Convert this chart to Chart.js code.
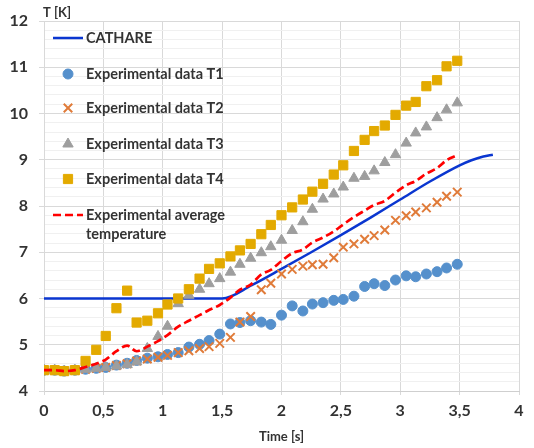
<!DOCTYPE html>
<html>
<head>
<meta charset="utf-8">
<script src="https://cdn.jsdelivr.net/npm/chart.js@4.4.1/dist/chart.umd.min.js"></script>
<style>
  html, body { margin: 0; padding: 0; background: #fff; }
</style>
</head>
<body>
<canvas id="chart" width="534" height="448"></canvas>
<script>
// Measurement times [s]
const times = [0, 0.09, 0.17, 0.26, 0.35, 0.44, 0.52, 0.61, 0.70, 0.78,
  0.87, 0.96, 1.04, 1.13, 1.22, 1.31, 1.39, 1.48, 1.57, 1.65,
  1.74, 1.83, 1.91, 2.00, 2.09, 2.18, 2.26, 2.35, 2.44, 2.52,
  2.61, 2.70, 2.78, 2.87, 2.96, 3.05, 3.13, 3.22, 3.31, 3.39, 3.48];

// Experimental temperatures [K]
const t1Temp = [4.45, 4.45, 4.43, 4.45, 4.47, 4.49, 4.51, 4.56, 4.60, 4.66,
  4.71, 4.74, 4.79, 4.83, 4.95, 5.01, 5.09, 5.23, 5.45, 5.48,
  5.52, 5.49, 5.44, 5.64, 5.84, 5.73, 5.88, 5.91, 5.96, 5.98,
  6.05, 6.26, 6.32, 6.28, 6.40, 6.49, 6.47, 6.53, 6.58, 6.66, 6.74];
const t2Temp = [4.45, 4.45, 4.43, 4.45, 4.47, 4.49, 4.51, 4.55, 4.59, 4.65,
  4.69, 4.73, 4.77, 4.83, 4.87, 4.92, 4.96, 5.03, 5.16, 5.49,
  5.61, 6.19, 6.33, 6.53, 6.63, 6.70, 6.73, 6.74, 6.88, 7.11,
  7.18, 7.28, 7.36, 7.48, 7.69, 7.79, 7.87, 7.96, 8.08, 8.21, 8.30];
const t3Temp = [4.45, 4.45, 4.43, 4.45, 4.47, 4.49, 4.51, 4.54, 4.57, 4.63,
  4.92, 5.18, 5.40, 5.89, 6.07, 6.20, 6.32, 6.43, 6.57, 6.74,
  6.87, 6.99, 7.12, 7.26, 7.47, 7.66, 7.93, 8.15, 8.26, 8.41,
  8.60, 8.64, 8.76, 8.94, 9.11, 9.36, 9.58, 9.71, 9.91, 10.08, 10.23];
const t4Temp = [4.45, 4.45, 4.43, 4.45, 4.65, 4.89, 5.19, 5.79, 6.17, 5.48,
  5.52, 5.68, 5.87, 6.00, 6.20, 6.43, 6.64, 6.76, 6.91, 7.04,
  7.18, 7.39, 7.59, 7.80, 7.97, 8.14, 8.31, 8.48, 8.68, 8.88,
  9.19, 9.43, 9.62, 9.74, 9.97, 10.17, 10.25, 10.59, 10.72, 11.02, 11.14];
const avgTemp = [4.45, 4.45, 4.43, 4.45, 4.52, 4.59, 4.68, 4.86, 4.98, 4.86,
  4.96, 5.08, 5.21, 5.39, 5.52, 5.64, 5.75, 5.86, 6.02, 6.19,
  6.30, 6.52, 6.62, 6.81, 6.98, 7.06, 7.21, 7.32, 7.45, 7.60,
  7.76, 7.90, 8.02, 8.11, 8.29, 8.45, 8.54, 8.70, 8.82, 8.99, 9.10];

// CATHARE calculation
const cathTime = [0, 1.5, 1.75, 2.0, 2.25, 2.5, 2.75, 3.0, 3.25, 3.5, 3.6, 3.7, 3.78];
const cathTemp = [6, 6, 6.29, 6.64, 7.0, 7.37, 7.75, 8.14, 8.53, 8.88, 8.99, 9.07, 9.11];

const FONT = 'Lato, "Open Sans", sans-serif';
const TEXT = '#333333';

const colors = {
  cathare: '#0A36D0',
  t1: '#5590CC',
  t2: '#E07B39',
  t3: '#9E9E9E',
  t4: '#E3AA00',
  avg: '#FF0000'
};

const toPoints = (xs, ys) => xs.map((x, i) => ({ x: x, y: ys[i] }));
const isMajor = v => Math.abs(v - Math.round(v)) < 1e-6;

// legend drawn inside the plot, plus axis titles
const insideLegend = {
  id: 'insideLegend',
  afterDraw(chart) {
    const ctx = chart.ctx;
    const mx = 68, tx = 86;
    ctx.save();
    ctx.font = 'bold 14.5px ' + FONT;
    ctx.fillStyle = TEXT;
    ctx.textBaseline = 'middle';
    ctx.textAlign = 'left';

    // CATHARE
    ctx.strokeStyle = colors.cathare;
    ctx.lineWidth = 2.5;
    ctx.beginPath(); ctx.moveTo(53, 38); ctx.lineTo(83, 38); ctx.stroke();
    ctx.fillText('CATHARE', tx, 38);

    const rows = [
      { y: 74, label: 'Experimental data T1', style: 'circle', r: 5, c: colors.t1 },
      { y: 108, label: 'Experimental data T2', style: 'crossRot', r: 6, c: colors.t2 },
      { y: 144, label: 'Experimental data T3', style: 'triangle', r: 6, c: colors.t3 },
      { y: 179, label: 'Experimental data T4', style: 'rect', r: 6.5, c: colors.t4 }
    ];
    rows.forEach(row => {
      ctx.fillStyle = row.c;
      ctx.strokeStyle = row.c;
      ctx.lineWidth = row.style === 'crossRot' ? 2 : 1;
      Chart.helpers.drawPoint(ctx, { pointStyle: row.style, radius: row.r, rotation: 0, borderWidth: ctx.lineWidth }, mx, row.y);
      ctx.fillStyle = TEXT;
      ctx.fillText(row.label, tx, row.y);
    });

    // average
    ctx.strokeStyle = colors.avg;
    ctx.lineWidth = 2.5;
    ctx.setLineDash([8, 4]);
    ctx.beginPath(); ctx.moveTo(53, 215); ctx.lineTo(83, 215); ctx.stroke();
    ctx.setLineDash([]);
    ctx.fillStyle = TEXT;
    ctx.fillText('Experimental average', tx, 215);
    ctx.fillText('temperature', tx, 234);

    // axis titles
    ctx.font = 'bold 13px ' + FONT;
    ctx.fillText('T [K]', 43, 13);
    ctx.textAlign = 'center';
    const area = chart.chartArea;
    ctx.fillText('Time [s]', (area.left + area.right) / 2, 437);
    ctx.restore();
  }
};

new Chart(document.getElementById('chart'), {
  type: 'scatter',
  data: {
    datasets: [
      {
        label: 'Experimental average temperature',
        data: toPoints(times, avgTemp),
        showLine: true,
        borderColor: colors.avg,
        borderWidth: 2.7,
        borderDash: [8, 4],
        pointRadius: 0,
        cubicInterpolationMode: 'monotone',
        order: 0
      },
      {
        label: 'Experimental data T4',
        data: toPoints(times, t4Temp),
        pointStyle: 'rect',
        pointRadius: 6.5,
        backgroundColor: colors.t4,
        borderColor: colors.t4,
        borderWidth: 1,
        order: 1
      },
      {
        label: 'Experimental data T3',
        data: toPoints(times, t3Temp),
        pointStyle: 'triangle',
        pointRadius: 6,
        backgroundColor: colors.t3,
        borderColor: colors.t3,
        borderWidth: 1,
        order: 2
      },
      {
        label: 'Experimental data T2',
        data: toPoints(times, t2Temp),
        pointStyle: 'crossRot',
        pointRadius: 6,
        backgroundColor: colors.t2,
        borderColor: colors.t2,
        borderWidth: 2,
        order: 3
      },
      {
        label: 'Experimental data T1',
        data: toPoints(times, t1Temp),
        pointStyle: 'circle',
        pointRadius: 5,
        backgroundColor: colors.t1,
        borderColor: colors.t1,
        borderWidth: 1,
        order: 4
      },
      {
        label: 'CATHARE',
        data: toPoints(cathTime, cathTemp),
        showLine: true,
        borderColor: colors.cathare,
        borderWidth: 2.5,
        pointRadius: 0,
        cubicInterpolationMode: 'monotone',
        order: 5
      }
    ]
  },
  options: {
    responsive: false,
    animation: false,
    layout: { padding: { top: 21, right: 15, left: 0, bottom: 0 } },
    plugins: {
      legend: { display: false },
      tooltip: { enabled: false }
    },
    scales: {
      x: {
        type: 'linear',
        min: 0,
        max: 4,
        afterFit: scale => { scale.height = 57; },
        ticks: {
          stepSize: 0.5,
          padding: 6,
          color: TEXT,
          font: { family: FONT, size: 16, weight: 'bold' },
          callback: v => String(v).replace('.', ',')
        },
        grid: { color: '#d9d9d9', tickLength: 4 },
        border: { color: '#cfcfcf' }
      },
      y: {
        min: 4,
        max: 12,
        afterFit: scale => { scale.width = 44; },
        ticks: {
          stepSize: 0.2,
          autoSkip: false,
          padding: 11,
          color: TEXT,
          font: { family: FONT, size: 16, weight: 'bold' },
          callback: v => isMajor(v) ? String(Math.round(v)) : ''
        },
        grid: {
          tickLength: 5,
          color: c => (c.tick && isMajor(c.tick.value)) ? '#d9d9d9' : '#f0f0f0',
          tickColor: c => (c.tick && isMajor(c.tick.value)) ? '#d9d9d9' : 'rgba(0,0,0,0)'
        },
        border: { color: '#d9d9d9' }
      }
    }
  },
  plugins: [insideLegend]
});
</script>
</body>
</html>
